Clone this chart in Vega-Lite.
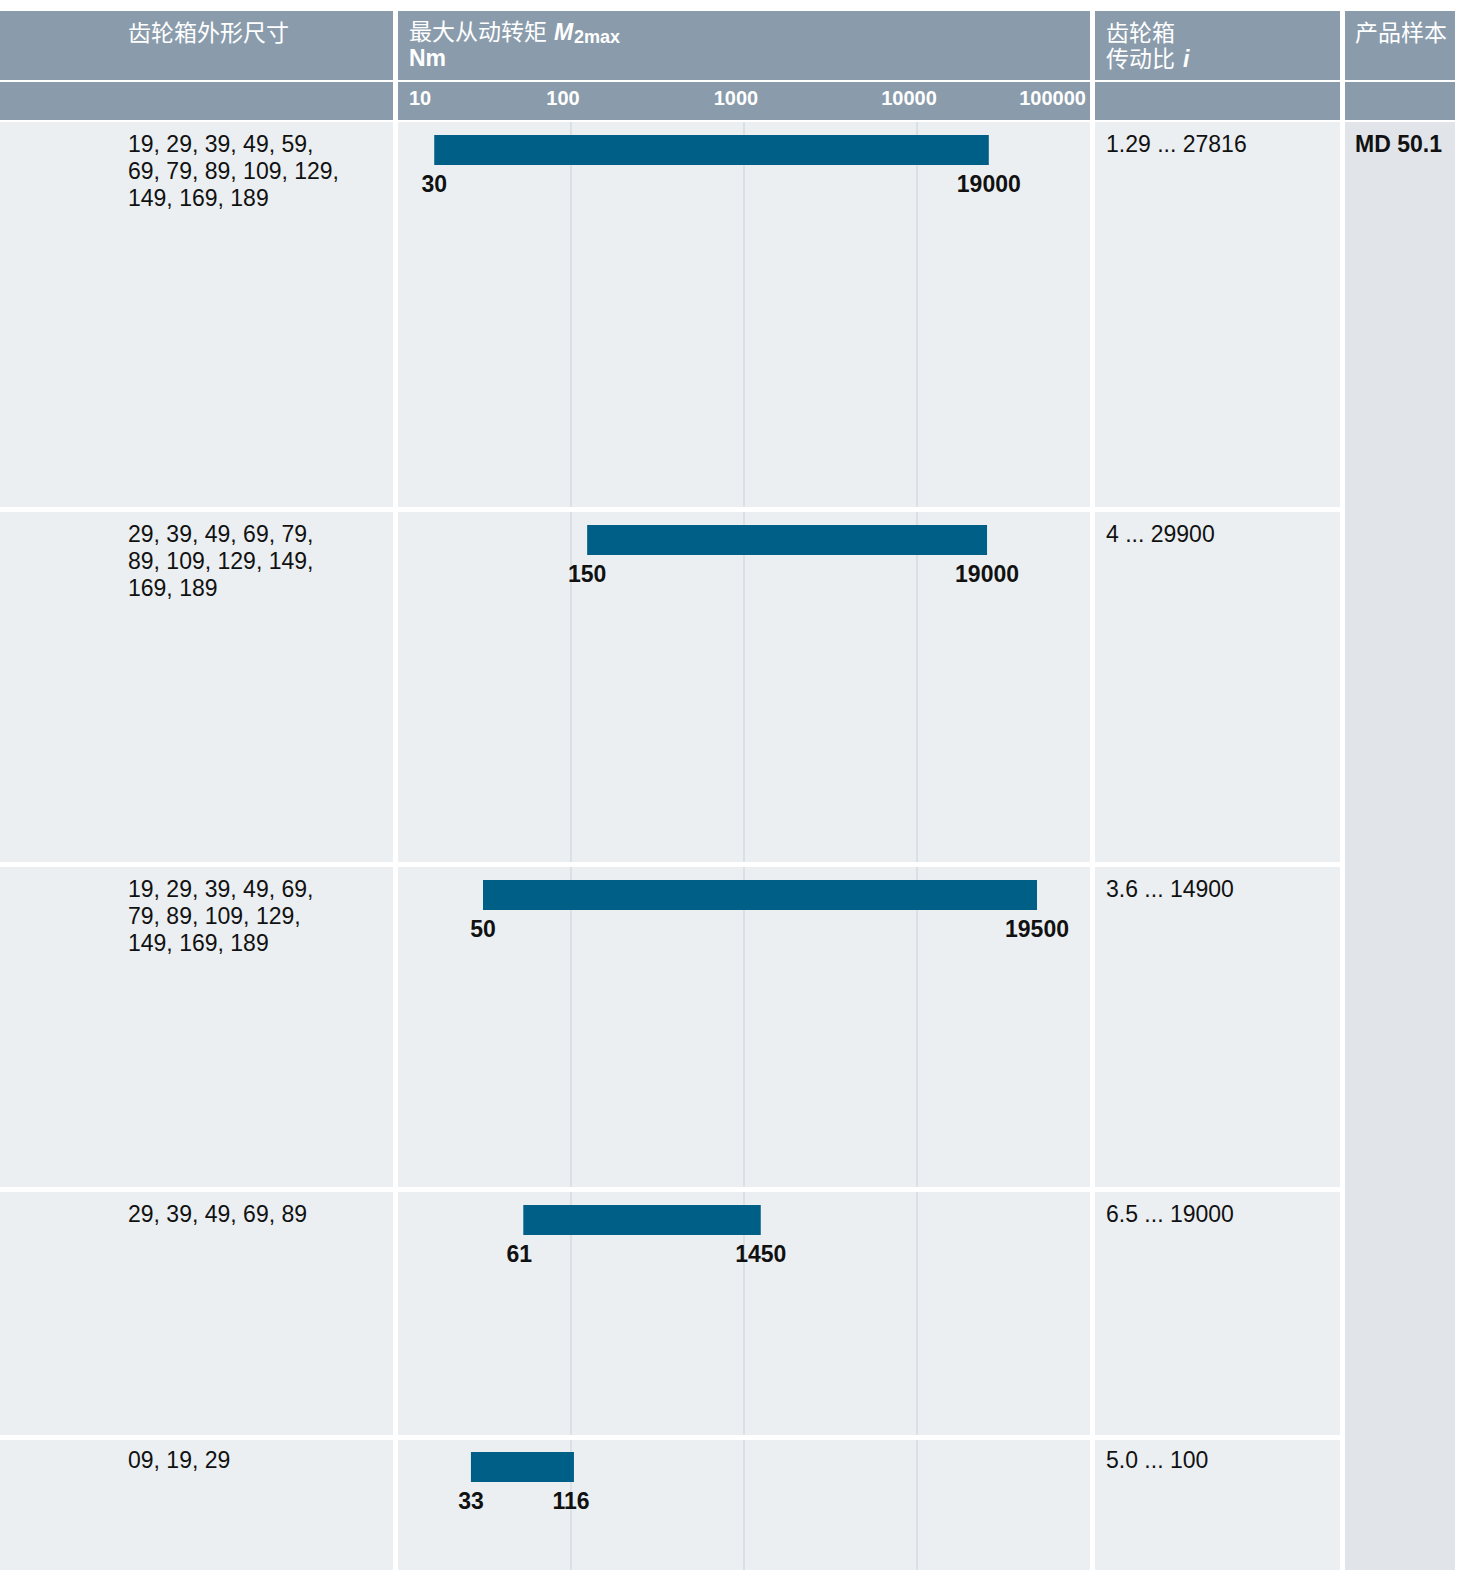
{
 "$schema": "https://vega.github.io/schema/vega-lite/v6.json",
 "background": "white",
 "padding": {"top": 11, "left": 0, "right": 0, "bottom": 0},
 "config": {"view": {"stroke": null}, "text": {"font": "Liberation Sans, Noto Sans CJK SC"}},
 "datasets": {
  "rows": [
   {"row": 1, "sizes": "19, 29, 39, 49, 59,\n69, 79, 89, 109, 129,\n149, 169, 189", "lo": 30, "hi": 19000, "bar_from": 16.2, "bar_to": 26000, "ratio": "1.29 ... 27816"},
   {"row": 2, "sizes": "29, 39, 49, 69, 79,\n89, 109, 129, 149,\n169, 189", "lo": 150, "hi": 19000, "bar_from": 124, "bar_to": 25400, "ratio": "4 ... 29900"},
   {"row": 3, "sizes": "19, 29, 39, 49, 69,\n79, 89, 109, 129,\n149, 169, 189", "lo": 50, "hi": 19500, "bar_from": 31, "bar_to": 49400, "ratio": "3.6 ... 14900"},
   {"row": 4, "sizes": "29, 39, 49, 69, 89", "lo": 61, "hi": 1450, "bar_from": 53, "bar_to": 1250, "ratio": "6.5 ... 19000"},
   {"row": 5, "sizes": "09, 19, 29", "lo": 33, "hi": 116, "bar_from": 26.4, "bar_to": 104, "ratio": "5.0 ... 100"}
  ],
  "grid": [{"v": 100}, {"v": 1000}, {"v": 10000}],
  "ticks": [{"v": 10, "t": "10"}, {"v": 100, "t": "100"}, {"v": 1000, "t": "1000"}, {"v": 10000, "t": "10000"}, {"v": 100000, "t": "100000"}]
 },
 "spacing": 5,
 "hconcat": [
  {
   "spacing": 2,
   "vconcat": [
    {
     "spacing": 5,
     "hconcat": [
      {"width": 393, "height": 69, "view": {"fill": "#8a9cac", "stroke": null},
       "data": {"values": [{"t": "齿轮箱外形尺寸"}]},
       "mark": {"type": "text", "align": "left", "baseline": "middle", "x": 128, "y": 23, "fontSize": 23, "color": "white", "font": "Noto Sans CJK SC"},
       "encoding": {"text": {"field": "t"}}},
      {"width": 692, "height": 69, "view": {"fill": "#8a9cac", "stroke": null},
       "layer": [
        {"data": {"values": [{"t": "最大从动转矩"}]},
         "mark": {"type": "text", "align": "left", "baseline": "middle", "x": 11, "y": 22, "fontSize": 23, "color": "white", "font": "Noto Sans CJK SC"},
         "encoding": {"text": {"field": "t"}}},
        {"data": {"values": [{"t": "M"}]},
         "mark": {"type": "text", "align": "left", "baseline": "middle", "x": 156, "y": 22, "fontSize": 23, "fontStyle": "italic", "fontWeight": "bold", "color": "white"},
         "encoding": {"text": {"field": "t"}}},
        {"data": {"values": [{"t": "2max"}]},
         "mark": {"type": "text", "align": "left", "baseline": "middle", "x": 176, "y": 27, "fontSize": 18, "fontWeight": "bold", "color": "white"},
         "encoding": {"text": {"field": "t"}}},
        {"data": {"values": [{"t": "Nm"}]},
         "mark": {"type": "text", "align": "left", "baseline": "middle", "x": 11, "y": 48, "fontSize": 23, "fontWeight": "bold", "color": "white"},
         "encoding": {"text": {"field": "t"}}}
       ]},
      {"width": 245, "height": 69, "view": {"fill": "#8a9cac", "stroke": null},
       "layer": [
        {"data": {"values": [{"t": "齿轮箱"}]},
         "mark": {"type": "text", "align": "left", "baseline": "middle", "x": 11, "y": 23, "fontSize": 23, "color": "white", "font": "Noto Sans CJK SC"},
         "encoding": {"text": {"field": "t"}}},
        {"data": {"values": [{"t": "传动比"}]},
         "mark": {"type": "text", "align": "left", "baseline": "middle", "x": 11, "y": 49, "fontSize": 23, "color": "white", "font": "Noto Sans CJK SC"},
         "encoding": {"text": {"field": "t"}}},
        {"data": {"values": [{"t": "i"}]},
         "mark": {"type": "text", "align": "left", "baseline": "middle", "x": 88, "y": 49, "fontSize": 23, "fontStyle": "italic", "fontWeight": "bold", "color": "white"},
         "encoding": {"text": {"field": "t"}}}
       ]}
     ]
    },
    {
     "spacing": 5,
     "hconcat": [
      {"width": 393, "height": 38, "view": {"fill": "#8a9cac", "stroke": null},
       "data": {"values": [{"t": ""}]}, "mark": {"type": "text"}, "encoding": {"text": {"field": "t"}}},
      {"width": 692, "height": 38, "view": {"fill": "#8a9cac", "stroke": null},
       "data": {"name": "ticks"},
       "layer": [
        {"transform": [{"filter": "datum.v == 10"}],
         "mark": {"type": "text", "align": "left", "dx": 11, "baseline": "middle", "y": 17, "fontSize": 20, "fontWeight": "bold", "color": "white"},
         "encoding": {"x": {"field": "v", "type": "quantitative", "scale": {"type": "log", "domain": [10, 100000], "nice": false}, "axis": null}, "text": {"field": "t"}}},
        {"transform": [{"filter": "datum.v > 10 && datum.v < 100000"}],
         "mark": {"type": "text", "align": "center", "dx": -8, "baseline": "middle", "y": 17, "fontSize": 20, "fontWeight": "bold", "color": "white"},
         "encoding": {"x": {"field": "v", "type": "quantitative", "scale": {"type": "log", "domain": [10, 100000], "nice": false}, "axis": null}, "text": {"field": "t"}}},
        {"transform": [{"filter": "datum.v == 100000"}],
         "mark": {"type": "text", "align": "right", "dx": -4, "baseline": "middle", "y": 17, "fontSize": 20, "fontWeight": "bold", "color": "white"},
         "encoding": {"x": {"field": "v", "type": "quantitative", "scale": {"type": "log", "domain": [10, 100000], "nice": false}, "axis": null}, "text": {"field": "t"}}}
       ]},
      {"width": 245, "height": 38, "view": {"fill": "#8a9cac", "stroke": null},
       "data": {"values": [{"t": ""}]}, "mark": {"type": "text"}, "encoding": {"text": {"field": "t"}}}
     ]
    },
    {
     "spacing": 5,
     "vconcat": [
      {"spacing": 5, "hconcat": [
       {"width": 393, "height": 385, "view": {"fill": "#ebeff2", "stroke": null},
        "data": {"name": "rows"}, "transform": [{"filter": "datum.row == 1"}],
        "mark": {"type": "text", "align": "left", "baseline": "alphabetic", "x": 128, "y": 30, "fontSize": 23, "lineBreak": "\n", "lineHeight": 27, "color": "#111111"},
        "encoding": {"text": {"field": "sizes"}}},
       {"width": 692, "height": 385, "view": {"fill": "#ebeff2", "stroke": null},
        "layer": [
         {"data": {"name": "grid"}, "mark": {"type": "rule", "color": "#d3dbe2", "strokeWidth": 1.5, "clip": true},
          "encoding": {"x": {"field": "v", "type": "quantitative", "scale": {"type": "log", "domain": [10, 100000], "nice": false}, "axis": null}}},
         {"data": {"name": "rows"}, "transform": [{"filter": "datum.row == 1"}],
          "mark": {"type": "rect", "color": "#005f87", "y": 13, "y2": 43},
          "encoding": {"x": {"field": "bar_from", "type": "quantitative", "scale": {"type": "log", "domain": [10, 100000], "nice": false}, "axis": null}, "x2": {"field": "bar_to"}}},
         {"data": {"name": "rows"}, "transform": [{"filter": "datum.row == 1"}],
          "mark": {"type": "text", "align": "center", "baseline": "alphabetic", "y": 70, "fontSize": 23, "fontWeight": "bold", "color": "#111111"},
          "encoding": {"x": {"field": "bar_from", "type": "quantitative", "scale": {"type": "log", "domain": [10, 100000], "nice": false}, "axis": null}, "text": {"field": "lo", "type": "quantitative", "format": "d"}}},
         {"data": {"name": "rows"}, "transform": [{"filter": "datum.row == 1"}],
          "mark": {"type": "text", "align": "center", "baseline": "alphabetic", "y": 70, "fontSize": 23, "fontWeight": "bold", "color": "#111111"},
          "encoding": {"x": {"field": "bar_to", "type": "quantitative", "scale": {"type": "log", "domain": [10, 100000], "nice": false}, "axis": null}, "text": {"field": "hi", "type": "quantitative", "format": "d"}}}
        ]},
       {"width": 245, "height": 385, "view": {"fill": "#ebeff2", "stroke": null},
        "data": {"name": "rows"}, "transform": [{"filter": "datum.row == 1"}],
        "mark": {"type": "text", "align": "left", "baseline": "alphabetic", "x": 11, "y": 30, "fontSize": 23, "color": "#111111"},
        "encoding": {"text": {"field": "ratio"}}}
      ]},
      {"spacing": 5, "hconcat": [
       {"width": 393, "height": 350, "view": {"fill": "#ebeff2", "stroke": null},
        "data": {"name": "rows"}, "transform": [{"filter": "datum.row == 2"}],
        "mark": {"type": "text", "align": "left", "baseline": "alphabetic", "x": 128, "y": 30, "fontSize": 23, "lineBreak": "\n", "lineHeight": 27, "color": "#111111"},
        "encoding": {"text": {"field": "sizes"}}},
       {"width": 692, "height": 350, "view": {"fill": "#ebeff2", "stroke": null},
        "layer": [
         {"data": {"name": "grid"}, "mark": {"type": "rule", "color": "#d3dbe2", "strokeWidth": 1.5, "clip": true},
          "encoding": {"x": {"field": "v", "type": "quantitative", "scale": {"type": "log", "domain": [10, 100000], "nice": false}, "axis": null}}},
         {"data": {"name": "rows"}, "transform": [{"filter": "datum.row == 2"}],
          "mark": {"type": "rect", "color": "#005f87", "y": 13, "y2": 43},
          "encoding": {"x": {"field": "bar_from", "type": "quantitative", "scale": {"type": "log", "domain": [10, 100000], "nice": false}, "axis": null}, "x2": {"field": "bar_to"}}},
         {"data": {"name": "rows"}, "transform": [{"filter": "datum.row == 2"}],
          "mark": {"type": "text", "align": "center", "baseline": "alphabetic", "y": 70, "fontSize": 23, "fontWeight": "bold", "color": "#111111"},
          "encoding": {"x": {"field": "bar_from", "type": "quantitative", "scale": {"type": "log", "domain": [10, 100000], "nice": false}, "axis": null}, "text": {"field": "lo", "type": "quantitative", "format": "d"}}},
         {"data": {"name": "rows"}, "transform": [{"filter": "datum.row == 2"}],
          "mark": {"type": "text", "align": "center", "baseline": "alphabetic", "y": 70, "fontSize": 23, "fontWeight": "bold", "color": "#111111"},
          "encoding": {"x": {"field": "bar_to", "type": "quantitative", "scale": {"type": "log", "domain": [10, 100000], "nice": false}, "axis": null}, "text": {"field": "hi", "type": "quantitative", "format": "d"}}}
        ]},
       {"width": 245, "height": 350, "view": {"fill": "#ebeff2", "stroke": null},
        "data": {"name": "rows"}, "transform": [{"filter": "datum.row == 2"}],
        "mark": {"type": "text", "align": "left", "baseline": "alphabetic", "x": 11, "y": 30, "fontSize": 23, "color": "#111111"},
        "encoding": {"text": {"field": "ratio"}}}
      ]},
      {"spacing": 5, "hconcat": [
       {"width": 393, "height": 320, "view": {"fill": "#ebeff2", "stroke": null},
        "data": {"name": "rows"}, "transform": [{"filter": "datum.row == 3"}],
        "mark": {"type": "text", "align": "left", "baseline": "alphabetic", "x": 128, "y": 30, "fontSize": 23, "lineBreak": "\n", "lineHeight": 27, "color": "#111111"},
        "encoding": {"text": {"field": "sizes"}}},
       {"width": 692, "height": 320, "view": {"fill": "#ebeff2", "stroke": null},
        "layer": [
         {"data": {"name": "grid"}, "mark": {"type": "rule", "color": "#d3dbe2", "strokeWidth": 1.5, "clip": true},
          "encoding": {"x": {"field": "v", "type": "quantitative", "scale": {"type": "log", "domain": [10, 100000], "nice": false}, "axis": null}}},
         {"data": {"name": "rows"}, "transform": [{"filter": "datum.row == 3"}],
          "mark": {"type": "rect", "color": "#005f87", "y": 13, "y2": 43},
          "encoding": {"x": {"field": "bar_from", "type": "quantitative", "scale": {"type": "log", "domain": [10, 100000], "nice": false}, "axis": null}, "x2": {"field": "bar_to"}}},
         {"data": {"name": "rows"}, "transform": [{"filter": "datum.row == 3"}],
          "mark": {"type": "text", "align": "center", "baseline": "alphabetic", "y": 70, "fontSize": 23, "fontWeight": "bold", "color": "#111111"},
          "encoding": {"x": {"field": "bar_from", "type": "quantitative", "scale": {"type": "log", "domain": [10, 100000], "nice": false}, "axis": null}, "text": {"field": "lo", "type": "quantitative", "format": "d"}}},
         {"data": {"name": "rows"}, "transform": [{"filter": "datum.row == 3"}],
          "mark": {"type": "text", "align": "center", "baseline": "alphabetic", "y": 70, "fontSize": 23, "fontWeight": "bold", "color": "#111111"},
          "encoding": {"x": {"field": "bar_to", "type": "quantitative", "scale": {"type": "log", "domain": [10, 100000], "nice": false}, "axis": null}, "text": {"field": "hi", "type": "quantitative", "format": "d"}}}
        ]},
       {"width": 245, "height": 320, "view": {"fill": "#ebeff2", "stroke": null},
        "data": {"name": "rows"}, "transform": [{"filter": "datum.row == 3"}],
        "mark": {"type": "text", "align": "left", "baseline": "alphabetic", "x": 11, "y": 30, "fontSize": 23, "color": "#111111"},
        "encoding": {"text": {"field": "ratio"}}}
      ]},
      {"spacing": 5, "hconcat": [
       {"width": 393, "height": 243, "view": {"fill": "#ebeff2", "stroke": null},
        "data": {"name": "rows"}, "transform": [{"filter": "datum.row == 4"}],
        "mark": {"type": "text", "align": "left", "baseline": "alphabetic", "x": 128, "y": 30, "fontSize": 23, "lineBreak": "\n", "lineHeight": 27, "color": "#111111"},
        "encoding": {"text": {"field": "sizes"}}},
       {"width": 692, "height": 243, "view": {"fill": "#ebeff2", "stroke": null},
        "layer": [
         {"data": {"name": "grid"}, "mark": {"type": "rule", "color": "#d3dbe2", "strokeWidth": 1.5, "clip": true},
          "encoding": {"x": {"field": "v", "type": "quantitative", "scale": {"type": "log", "domain": [10, 100000], "nice": false}, "axis": null}}},
         {"data": {"name": "rows"}, "transform": [{"filter": "datum.row == 4"}],
          "mark": {"type": "rect", "color": "#005f87", "y": 13, "y2": 43},
          "encoding": {"x": {"field": "bar_from", "type": "quantitative", "scale": {"type": "log", "domain": [10, 100000], "nice": false}, "axis": null}, "x2": {"field": "bar_to"}}},
         {"data": {"name": "rows"}, "transform": [{"filter": "datum.row == 4"}],
          "mark": {"type": "text", "align": "center", "baseline": "alphabetic", "dx": -4, "y": 70, "fontSize": 23, "fontWeight": "bold", "color": "#111111"},
          "encoding": {"x": {"field": "bar_from", "type": "quantitative", "scale": {"type": "log", "domain": [10, 100000], "nice": false}, "axis": null}, "text": {"field": "lo", "type": "quantitative", "format": "d"}}},
         {"data": {"name": "rows"}, "transform": [{"filter": "datum.row == 4"}],
          "mark": {"type": "text", "align": "center", "baseline": "alphabetic", "y": 70, "fontSize": 23, "fontWeight": "bold", "color": "#111111"},
          "encoding": {"x": {"field": "bar_to", "type": "quantitative", "scale": {"type": "log", "domain": [10, 100000], "nice": false}, "axis": null}, "text": {"field": "hi", "type": "quantitative", "format": "d"}}}
        ]},
       {"width": 245, "height": 243, "view": {"fill": "#ebeff2", "stroke": null},
        "data": {"name": "rows"}, "transform": [{"filter": "datum.row == 4"}],
        "mark": {"type": "text", "align": "left", "baseline": "alphabetic", "x": 11, "y": 30, "fontSize": 23, "color": "#111111"},
        "encoding": {"text": {"field": "ratio"}}}
      ]},
      {"spacing": 5, "hconcat": [
       {"width": 393, "height": 130, "view": {"fill": "#ebeff2", "stroke": null},
        "data": {"name": "rows"}, "transform": [{"filter": "datum.row == 5"}],
        "mark": {"type": "text", "align": "left", "baseline": "alphabetic", "x": 128, "y": 28, "fontSize": 23, "lineBreak": "\n", "lineHeight": 27, "color": "#111111"},
        "encoding": {"text": {"field": "sizes"}}},
       {"width": 692, "height": 130, "view": {"fill": "#ebeff2", "stroke": null},
        "layer": [
         {"data": {"name": "grid"}, "mark": {"type": "rule", "color": "#d3dbe2", "strokeWidth": 1.5, "clip": true},
          "encoding": {"x": {"field": "v", "type": "quantitative", "scale": {"type": "log", "domain": [10, 100000], "nice": false}, "axis": null}}},
         {"data": {"name": "rows"}, "transform": [{"filter": "datum.row == 5"}],
          "mark": {"type": "rect", "color": "#005f87", "y": 12, "y2": 42},
          "encoding": {"x": {"field": "bar_from", "type": "quantitative", "scale": {"type": "log", "domain": [10, 100000], "nice": false}, "axis": null}, "x2": {"field": "bar_to"}}},
         {"data": {"name": "rows"}, "transform": [{"filter": "datum.row == 5"}],
          "mark": {"type": "text", "align": "center", "baseline": "alphabetic", "y": 69, "fontSize": 23, "fontWeight": "bold", "color": "#111111"},
          "encoding": {"x": {"field": "bar_from", "type": "quantitative", "scale": {"type": "log", "domain": [10, 100000], "nice": false}, "axis": null}, "text": {"field": "lo", "type": "quantitative", "format": "d"}}},
         {"data": {"name": "rows"}, "transform": [{"filter": "datum.row == 5"}],
          "mark": {"type": "text", "align": "center", "baseline": "alphabetic", "dx": -3, "y": 69, "fontSize": 23, "fontWeight": "bold", "color": "#111111"},
          "encoding": {"x": {"field": "bar_to", "type": "quantitative", "scale": {"type": "log", "domain": [10, 100000], "nice": false}, "axis": null}, "text": {"field": "hi", "type": "quantitative", "format": "d"}}}
        ]},
       {"width": 245, "height": 130, "view": {"fill": "#ebeff2", "stroke": null},
        "data": {"name": "rows"}, "transform": [{"filter": "datum.row == 5"}],
        "mark": {"type": "text", "align": "left", "baseline": "alphabetic", "x": 11, "y": 28, "fontSize": 23, "color": "#111111"},
        "encoding": {"text": {"field": "ratio"}}}
      ]}
     ]
    }
   ]
  },
  {
   "spacing": 2,
   "vconcat": [
    {"width": 110, "height": 69, "view": {"fill": "#8a9cac", "stroke": null},
     "data": {"values": [{"t": "产品样本"}]},
     "mark": {"type": "text", "align": "left", "baseline": "middle", "x": 10, "y": 23, "fontSize": 23, "color": "white", "font": "Noto Sans CJK SC"},
     "encoding": {"text": {"field": "t"}}},
    {"width": 110, "height": 38, "view": {"fill": "#8a9cac", "stroke": null},
     "data": {"values": [{"t": ""}]}, "mark": {"type": "text"}, "encoding": {"text": {"field": "t"}}},
    {"width": 110, "height": 1448, "view": {"fill": "#e1e5e9", "stroke": null},
     "data": {"values": [{"t": "MD 50.1"}]},
     "mark": {"type": "text", "align": "left", "baseline": "alphabetic", "x": 10, "y": 30, "fontSize": 23, "fontWeight": "bold", "color": "#111111"},
     "encoding": {"text": {"field": "t"}}}
   ]
  }
 ]
}
